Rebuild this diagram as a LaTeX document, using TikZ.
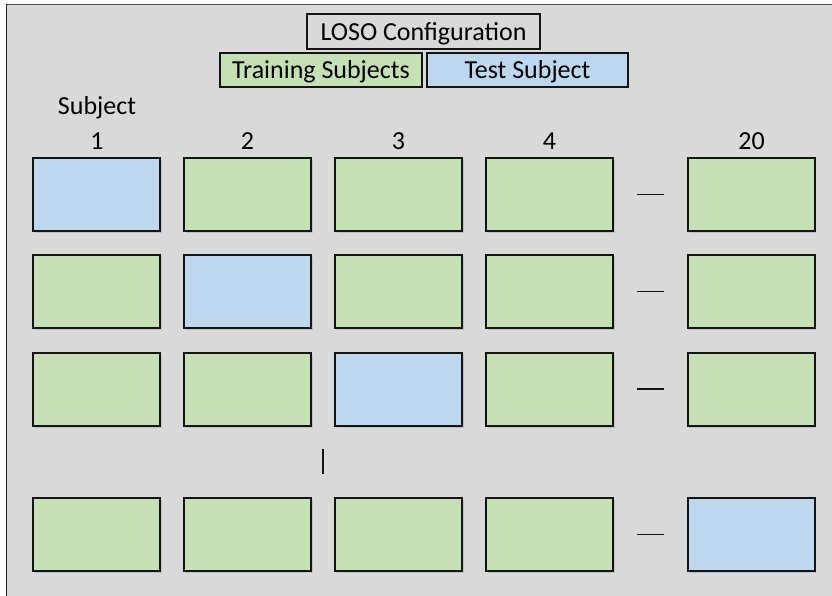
\documentclass[tikz,border=0pt]{standalone}
\usepackage{fontspec}
\setmainfont{Carlito}
\usetikzlibrary{shadows}
\definecolor{panelbg}{HTML}{D9D9D9}
\definecolor{trainfill}{HTML}{C5E0B4}
\definecolor{testfill}{HTML}{BDD7EE}
\definecolor{edge}{HTML}{141414}
\definecolor{shade}{HTML}{AEB8C6}
\begin{document}
\begin{tikzpicture}[x=1pt,y=-1pt,
  txt/.style={font=\fontsize{26}{31}\selectfont, inner sep=0pt, text=black},
  cell/.style={draw=edge, line width=2pt, minimum width=127pt, minimum height=73pt,
    inner sep=0pt, drop shadow={shadow xshift=1.5pt, shadow yshift=-2pt, fill=shade, opacity=.7}},
  train/.style={cell, fill=trainfill},
  test/.style={cell, fill=testfill},
  legendbox/.style={draw=edge, line width=1.5pt, inner sep=0pt},
  gap/.style={draw=edge, line width=1.5pt},
]
\useasboundingbox (0,0) rectangle (832,596);
% page and panel
\fill[white] (0,0) rectangle (832,596);
\fill[panelbg] (6.5,4.5) rectangle (832,596);
\draw[line width=1.5pt, black!85] (6.5,596) -- (6.5,4.5);
\draw[line width=1.5pt, black!70] (6.5,4.5) -- (832,4.5);

% header and legend
\node[legendbox, minimum width=233pt, minimum height=35pt] (title) at (423.5,31.5) {};
\node[txt, anchor=base] (titletxt) at (423.5,40.5) {LOSO Configuration};
\node[legendbox, fill=trainfill, minimum width=202pt, minimum height=34pt] (lgtrain) at (321,70) {};
\node[txt, anchor=base] (lgtraintxt) at (321,78.5) {Training Subjects};
\node[legendbox, fill=testfill, minimum width=201pt, minimum height=34pt] (lgtest) at (527.5,70) {};
\node[txt, anchor=base] (lgtesttxt) at (527.5,78.5) {Test Subject};

% column headings
\node[txt, anchor=base] (subj) at (97,115) {Subject};
\node[txt, anchor=base] (h1) at (97,149.5) {1};
\node[txt, anchor=base] (h2) at (247.5,149.5) {2};
\node[txt, anchor=base] (h3) at (398.5,149.5) {3};
\node[txt, anchor=base] (h4) at (549.5,149.5) {4};
\node[txt, anchor=base] (h20) at (751.5,149.5) {20};

% fold 1
\node[test]  (r1c1) at (96.5,194.5) {};
\node[train] (r1c2) at (247.5,194.5) {};
\node[train] (r1c3) at (398.5,194.5) {};
\node[train] (r1c4) at (549.5,194.5) {};
\node[train] (r1c5) at (751,194.5) {};
% fold 2
\node[train] (r2c1) at (96.5,291.5) {};
\node[test]  (r2c2) at (247.5,291.5) {};
\node[train] (r2c3) at (398.5,291.5) {};
\node[train] (r2c4) at (549.5,291.5) {};
\node[train] (r2c5) at (751,291.5) {};
% fold 3
\node[train] (r3c1) at (96.5,389) {};
\node[train] (r3c2) at (247.5,389) {};
\node[test]  (r3c3) at (398.5,389) {};
\node[train] (r3c4) at (549.5,389) {};
\node[train] (r3c5) at (751,389) {};
% fold 20
\node[train] (r4c1) at (96.5,534.5) {};
\node[train] (r4c2) at (247.5,534.5) {};
\node[train] (r4c3) at (398.5,534.5) {};
\node[train] (r4c4) at (549.5,534.5) {};
\node[test]  (r4c5) at (751,534.5) {};

% skipped subjects (columns 5 to 19) and skipped folds
\draw[gap] (637,194.5) -- (664,194.5);
\draw[gap] (637,291.5) -- (664,291.5);
\draw[gap] (637,389) -- (664,389);
\draw[gap] (637,534.5) -- (664,534.5);
\draw[line width=2pt, edge] (323,449) -- (323,474);
\end{tikzpicture}
\end{document}
